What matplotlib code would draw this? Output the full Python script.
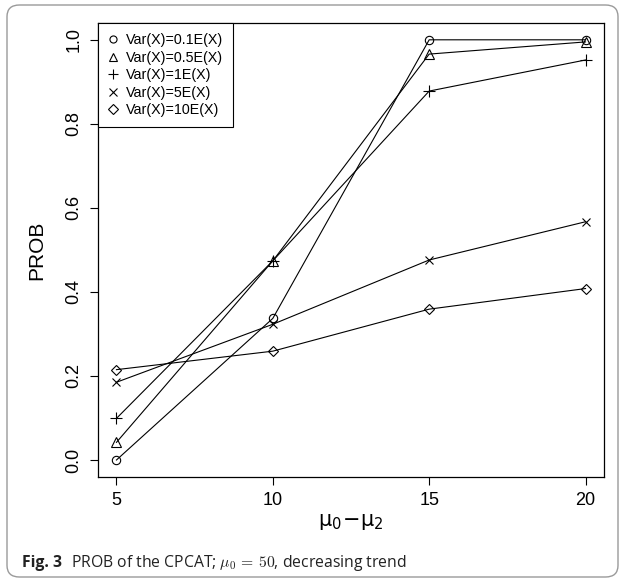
import matplotlib
matplotlib.use("Agg")
import matplotlib.pyplot as plt
from matplotlib.lines import Line2D
from matplotlib.patches import FancyBboxPatch

# data
diff = [5, 10, 15, 20]
var_01 = [0.000, 0.337, 1.000, 1.000]
var_05 = [0.042, 0.474, 0.966, 0.995]
var_1 = [0.099, 0.474, 0.878, 0.952]
var_5 = [0.185, 0.323, 0.476, 0.567]
var_10 = [0.215, 0.259, 0.359, 0.408]

labels = ["Var(X)=0.1E(X)", "Var(X)=0.5E(X)", "Var(X)=1E(X)",
          "Var(X)=5E(X)", "Var(X)=10E(X)"]
markers = ["o", "^", "+", "x", "D"]
msizes = [6, 6.5, 8, 6, 5.5]
series = [var_01, var_05, var_1, var_5, var_10]

plt.rcParams["font.family"] = ["Liberation Sans", "DejaVu Sans"]
plt.rcParams["mathtext.fontset"] = "dejavusans"

W, H = 624, 581
fig = plt.figure(figsize=(W / 100, H / 100), dpi=100)

# outer rounded frame
frame = FancyBboxPatch((7 / W, 4 / H), 611 / W, 572 / H,
                       boxstyle="round,pad=0,rounding_size=0.02",
                       transform=fig.transFigure, fill=False,
                       edgecolor="#9a9a9a", linewidth=1.0)
fig.patches.append(frame)

ax = fig.add_axes([97.7 / W, 1 - 476.8 / H, (604.3 - 97.7) / W, (476.8 - 23) / H])

for ys, m, ms in zip(series, markers, msizes):
    ax.plot(diff, ys, color="black", linewidth=0.8, marker=m, markersize=ms,
            markerfacecolor="none", markeredgecolor="black",
            markeredgewidth=0.8)

ax.set_xlim(4.4, 20.6)
ax.set_ylim(-0.04, 1.04)
ax.set_xticks(diff)
ax.set_yticks([0.0, 0.2, 0.4, 0.6, 0.8, 1.0])
ax.set_xticklabels(["5", "10", "15", "20"])
ax.set_yticklabels(["0.0", "0.2", "0.4", "0.6", "0.8", "1.0"],
                   rotation=90, va="center")
ax.tick_params(direction="out", length=6, width=0.8, labelsize=13, pad=5)
for s in ax.spines.values():
    s.set_linewidth(0.9)

ax.set_ylabel("PROB", fontsize=15, labelpad=14)
ax.set_xlabel(r"$\mathrm{\mu}_0\!-\!\mathrm{\mu}_2$", fontsize=15, labelpad=2)

handles = [Line2D([], [], linestyle="none", marker=m, markersize=ms * 0.85,
                  markerfacecolor="none", markeredgecolor="black",
                  markeredgewidth=0.8)
           for m, ms in zip(markers, msizes)]
leg = ax.legend(handles, labels, loc="upper left", borderaxespad=0,
                fontsize=10.3, frameon=True, fancybox=False, framealpha=1,
                edgecolor="black", handlelength=0.8, handletextpad=0.45,
                labelspacing=0.25, borderpad=0.7)
leg.get_frame().set_linewidth(0.8)

# caption
fig.canvas.draw()
renderer = fig.canvas.get_renderer()
t1 = fig.text(22 / W, 1 - 563 / H, "Fig. 3", fontsize=11.3, fontweight="bold",
              family=["Open Sans", "DejaVu Sans"], va="center", color="#222222")
bb = t1.get_window_extent(renderer)
x_next = bb.x1 / W + 9 / W
fig.text(x_next, 1 - 563 / H,
         r"PROB of the CPCAT; $\mu_0\,=\,50$, decreasing trend",
         fontsize=11.3, family=["Open Sans", "DejaVu Sans"], va="center",
         color="#222222", math_fontfamily="cm")

fig.savefig("out.png", dpi=100)
